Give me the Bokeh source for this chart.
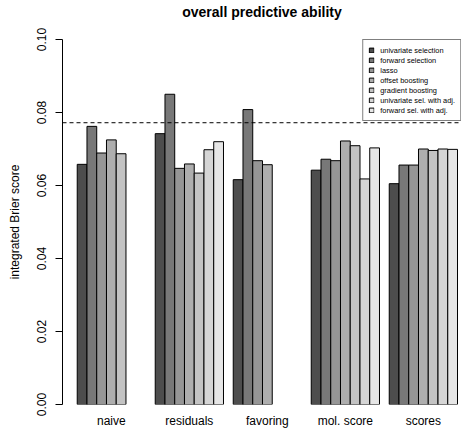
from bokeh.plotting import figure
from bokeh.models import (ColumnDataSource, Range1d, FixedTicker, Span, Legend,
                          LegendItem, NumeralTickFormatter, Title)
from bokeh.embed import file_html
from bokeh.resources import INLINE
import math

NaN = float("nan")

groups = ["naive", "residuals", "favoring", "mol. score", "scores"]
methods = ["univariate selection", "forward selection", "lasso", "offset boosting",
           "gradient boosting", "univariate sel. with adj.", "forward sel. with adj."]
colors = ["#4D4D4D", "#787878", "#969696", "#AEAEAE", "#C3C3C3", "#D5D5D5", "#E6E6E6"]

naive = [0.0658, 0.0762, 0.0689, 0.0725, 0.0687, NaN, NaN]
residuals = [0.0742, 0.0850, 0.0647, 0.0659, 0.0634, 0.0698, 0.0720]
favoring = [0.0616, 0.0808, 0.0668, 0.0657, NaN, NaN, NaN]
mol_score = [0.0642, 0.0672, 0.0668, 0.0722, 0.0709, 0.0618, 0.0703]
scores = [0.0605, 0.0656, 0.0656, 0.0700, 0.0696, 0.0700, 0.0699]
reference_score = 0.0772

y_ticks = [0.0, 0.02, 0.04, 0.06, 0.08, 0.10]
title_text = "overall predictive ability"

series = [naive, residuals, favoring, mol_score, scores]
n_methods = len(methods)
group_step = n_methods + 1

FONT = "Liberation Sans"

p = figure(width=462, height=439, output_backend="svg", toolbar_location=None,
           title=None,
           x_range=Range1d(-0.51, 40.41), y_range=Range1d(0, 0.1),
           min_border_left=62, min_border_right=1, min_border_top=39,
           min_border_bottom=35, background_fill_color="white",
           border_fill_color="white", outline_line_color=None)

# an invisible spacer panel closest to the frame, then the real title above it
p.add_layout(Title(text=" ", text_font=FONT, text_font_size="8px",
                   text_color="white", standoff=9), "above")
p.add_layout(Title(text=title_text, align="center",
                   text_font=FONT, text_font_size="14px", text_font_style="bold",
                   text_color="black", offset=4, standoff=0), "above")

legend_items = []
for j, m in enumerate(methods):
    xs, tops = [], []
    for g, vals in enumerate(series):
        v = vals[j]
        if v is None or (isinstance(v, float) and math.isnan(v)):
            continue
        xs.append(1 + g * group_step + j + 0.5)
        tops.append(v)
    src = ColumnDataSource(dict(x=xs, top=tops))
    r = p.vbar(x="x", top="top", bottom=0, width=1, source=src,
               fill_color=colors[j], line_color="black", line_width=1)
    legend_items.append(LegendItem(label=m, renderers=[r]))

span = Span(location=reference_score, dimension="width", line_color="black",
            line_width=1, line_dash="4 3")
p.add_layout(span)

legend = Legend(items=legend_items, location="top_right", margin=0, padding=5,
                spacing=0, label_height=10, glyph_height=6, glyph_width=6,
                label_standoff=6, label_text_font=FONT, label_text_font_size="7.4px",
                label_text_color="black",
                border_line_color="black", border_line_width=1,
                background_fill_color="white", background_fill_alpha=1.0)
p.add_layout(legend)

p.xgrid.visible = False
p.ygrid.visible = False

# x axis: group names only
xa = p.xaxis[0]
xa.ticker = FixedTicker(ticks=[1 + g * group_step + n_methods / 2 for g in range(len(groups))])
xa.major_label_overrides = {1 + g * group_step + n_methods / 2: name for g, name in enumerate(groups)}
xa.axis_line_color = None
xa.major_tick_line_color = None
xa.minor_tick_line_color = None
xa.major_tick_out = 0
xa.major_tick_in = 0
xa.major_label_standoff = 9
xa.major_label_text_font = FONT
xa.major_label_text_font_size = "12px"
xa.major_label_text_color = "black"

ya = p.yaxis[0]
ya.ticker = FixedTicker(ticks=y_ticks)
ya.formatter = NumeralTickFormatter(format="0.00")
ya.major_label_orientation = "vertical"
ya.major_tick_out = 7
ya.major_tick_in = 0
ya.minor_tick_line_color = None
ya.major_label_standoff = 10
ya.major_label_text_font = FONT
ya.major_label_text_font_size = "12px"
ya.major_label_text_color = "black"
ya.axis_label = "integrated Brier score"
ya.axis_label_text_font = FONT
ya.axis_label_text_font_size = "12px"
ya.axis_label_text_font_style = "normal"
ya.axis_label_text_color = "black"
ya.axis_label_standoff = 12
ya.axis_line_color = "black"
ya.major_tick_line_color = "black"

open("out.html", "w").write(file_html(p, INLINE))
